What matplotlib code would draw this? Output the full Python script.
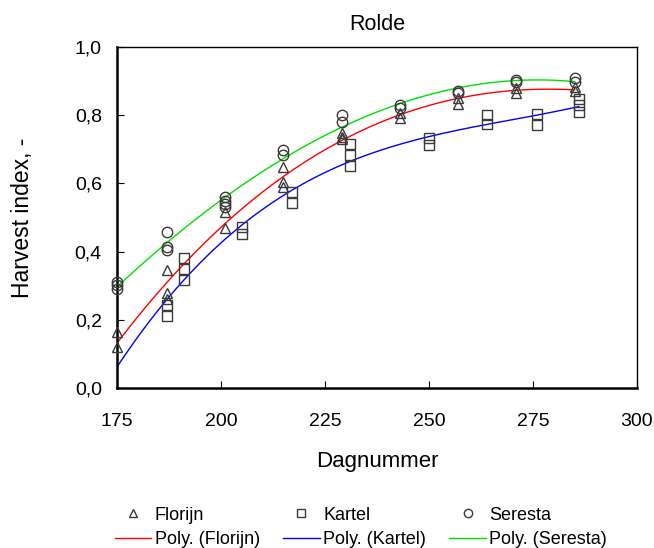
import numpy as np
import matplotlib.pyplot as plt
from matplotlib.ticker import FuncFormatter

# Harvest index per day number
florijn_day = [175, 175, 187, 187, 187, 201, 201, 215, 215, 215, 229, 229, 229,
               243, 243, 257, 257, 271, 271, 285, 285]
florijn_hi = [0.165, 0.12, 0.346, 0.28, 0.26, 0.517, 0.47, 0.649, 0.605, 0.59,
              0.748, 0.737, 0.73, 0.806, 0.791, 0.85, 0.833, 0.879, 0.864, 0.884, 0.872]

kartel_day = [187, 187, 191, 191, 191, 205, 205, 217, 217, 231, 231, 231,
              250, 250, 264, 264, 276, 276, 286, 286, 286]
kartel_hi = [0.243, 0.211, 0.38, 0.35, 0.317, 0.473, 0.452, 0.576, 0.543,
             0.717, 0.683, 0.651, 0.732, 0.712, 0.80, 0.774, 0.805, 0.771, 0.847, 0.83, 0.81]

seresta_day = [175, 175, 175, 187, 187, 187, 201, 201, 201, 201, 215, 215, 229, 229,
               243, 243, 257, 257, 271, 271, 285, 285]
seresta_hi = [0.312, 0.302, 0.29, 0.457, 0.415, 0.405, 0.561, 0.549, 0.54, 0.53,
              0.698, 0.683, 0.80, 0.779, 0.83, 0.82, 0.872, 0.864, 0.905, 0.898, 0.908, 0.898]

plt.rcParams['font.family'] = ['Liberation Sans', 'DejaVu Sans']

fig = plt.figure(figsize=(6.54, 5.48), dpi=100)
ax = fig.add_axes([0.179, 0.292, 0.795, 0.622])

mk = dict(linestyle='none', markerfacecolor='none', markeredgecolor='#3a3a3a',
          markeredgewidth=1.0, clip_on=False)
series = [
    ('Florijn', florijn_day, florijn_hi, '^', 'red'),
    ('Kartel', kartel_day, kartel_hi, 's', 'blue'),
    ('Seresta', seresta_day, seresta_hi, 'o', '#00e000'),
]

handles = []
for name, d, h, m, c in series:
    pts, = ax.plot(d, h, marker=m, markersize=7.5, label=name, zorder=3, **mk)
    # polynomial trend line, like the spreadsheet's "Poly."
    coef = np.polyfit(d, h, 3)
    xs = np.linspace(175, max(d), 120)
    ln, = ax.plot(xs, np.polyval(coef, xs), color=c, lw=1.0,
                  label='Poly. (%s)' % name, zorder=2)
    handles += [pts, ln]

ax.set_xlim(175, 300)
ax.set_ylim(0, 1)
ax.set_xticks(np.arange(175, 301, 25))
ax.set_yticks(np.arange(0, 1.01, 0.2))
ax.yaxis.set_major_formatter(FuncFormatter(lambda v, p: ('%.1f' % v).replace('.', ',')))
ax.tick_params(direction='in', length=5, labelsize=14)
ax.tick_params(axis='x', pad=18)
ax.tick_params(axis='y', pad=11)
for s in ax.spines.values():
    s.set_linewidth(1.0)
ax.spines['left'].set_linewidth(1.8)
ax.spines['bottom'].set_linewidth(1.8)

ax.set_title('Rolde', fontsize=15.5, pad=12)
ax.set_xlabel('Dagnummer', fontsize=16)
ax.set_ylabel('Harvest index, -', fontsize=16.5)
ax.xaxis.set_label_coords(0.5, -0.185)
ax.yaxis.set_label_coords(-0.16, 0.5)

leg = fig.legend(handles=handles, ncol=3, loc='lower left', bbox_to_anchor=(0.176, 0.0),
                 frameon=False, fontsize=13, handlelength=2.0, markerscale=0.8,
                 columnspacing=1.3, handletextpad=0.2, labelspacing=0.4,
                 borderpad=0, borderaxespad=0)

fig.savefig('out.png', dpi=100)
